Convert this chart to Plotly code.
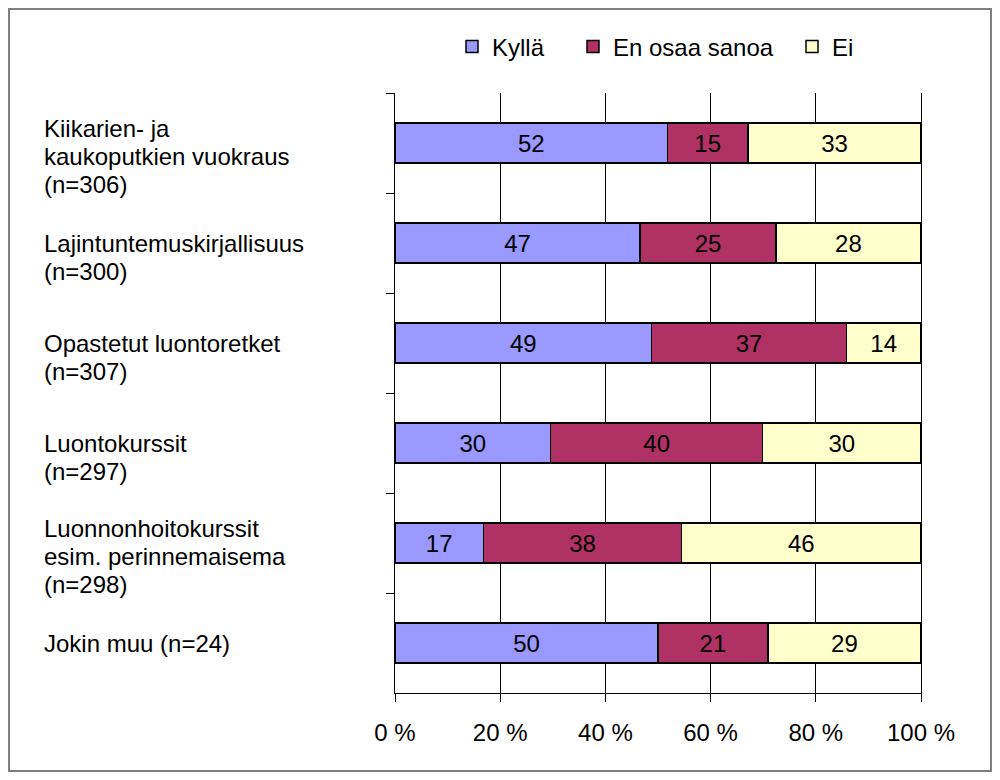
import plotly.graph_objects as go

# survey items, top to bottom
categories = [
    "Kiikarien- ja<br>kaukoputkien vuokraus<br>(n=306)",
    "Lajintuntemuskirjallisuus<br>(n=300)",
    "Opastetut luontoretket<br>(n=307)",
    "Luontokurssit<br>(n=297)",
    "Luonnonhoitokurssit<br>esim. perinnemaisema<br>(n=298)",
    "Jokin muu (n=24)",
]

# shares in percent (segment widths)
kylla = [51.8, 46.6, 48.8, 29.6, 16.8, 50.0]
en_osaa = [15.3, 25.8, 37.0, 40.3, 37.7, 20.9]
ei = [32.9, 27.6, 14.2, 30.1, 45.5, 29.1]

# printed data labels
kylla_labels = ["52", "47", "49", "30", "17", "50"]
en_osaa_labels = ["15", "25", "37", "40", "38", "21"]
ei_labels = ["33", "28", "14", "30", "46", "29"]

x_ticks = [0, 20, 40, 60, 80, 100]
x_tick_labels = ["0 %", "20 %", "40 %", "60 %", "80 %", "100 %"]

FONT = "Liberation Sans, Arial, sans-serif"

# the page body adds an 8px margin, so the figure is laid out in page
# pixels minus that offset
OFF = 8
W, H = 1000 - OFF, 780 - OFF
X0, X1, Y0, Y1 = 395 - OFF, 921 - OFF, 93 - OFF, 693 - OFF


def px_x(p):
    return (p - OFF - X0) / (X1 - X0)


def px_y(p):
    return (Y1 - (p - OFF)) / (Y1 - Y0)


series = [
    ("Kyllä", kylla, kylla_labels, "#9999FF", "legend", 452),
    ("En osaa sanoa", en_osaa, en_osaa_labels, "#B03264", "legend2", 573),
    ("Ei", ei, ei_labels, "#FFFFCC", "legend3", 792),
]

fig = go.Figure()
for name, values, labels, color, legend_id, _ in series:
    fig.add_trace(
        go.Bar(
            y=categories,
            x=values,
            orientation="h",
            name=name,
            text=labels,
            textposition="inside",
            insidetextanchor="middle",
            textangle=0,
            textfont=dict(family=FONT, size=24, color="black"),
            marker=dict(color=color, line=dict(color="black", width=1.5)),
            legend=legend_id,
            showlegend=True,
            hoverinfo="skip",
        )
    )

legend_style = dict(
    orientation="h",
    yanchor="middle",
    xanchor="left",
    y=px_y(47),
    font=dict(family=FONT, size=24, color="black"),
    bgcolor="rgba(0,0,0,0)",
)

fig.update_layout(
    width=W,
    height=H,
    barmode="stack",
    bargap=0.6,
    showlegend=True,
    paper_bgcolor="white",
    plot_bgcolor="white",
    margin=dict(l=X0, r=W - X1, t=Y0, b=H - Y1, autoexpand=False),
    font=dict(family=FONT, size=24, color="black"),
    legend=dict(legend_style, x=px_x(series[0][5])),
    legend2=dict(legend_style, x=px_x(series[1][5])),
    legend3=dict(legend_style, x=px_x(series[2][5])),
    uniformtext=dict(mode="show", minsize=10),
)

fig.update_xaxes(
    range=[0, 100],
    tickvals=x_ticks,
    ticktext=x_tick_labels,
    showgrid=True,
    gridcolor="black",
    gridwidth=1,
    zeroline=False,
    showline=True,
    linecolor="black",
    linewidth=1,
    ticks="outside",
    ticklen=8,
    tickcolor="black",
    ticklabelstandoff=10,
    tickfont=dict(family=FONT, size=24, color="black"),
)

fig.update_yaxes(
    type="category",
    categoryorder="array",
    categoryarray=categories,
    range=[len(categories) - 0.5, -0.5],
    tickson="boundaries",
    ticks="outside",
    ticklen=8,
    tickcolor="black",
    showticklabels=False,
    showgrid=False,
    showline=True,
    linecolor="black",
    linewidth=1,
    mirror=True,
    zeroline=False,
)

# category labels, left aligned, one annotation per line
LINE = 28
for cat in categories:
    lines = cat.split("<br>")
    first = -15 if len(lines) > 2 else 0
    for i, line in enumerate(lines):
        fig.add_annotation(
            x=px_x(42),
            xref="paper",
            y=cat,
            yref="y",
            text=line,
            showarrow=False,
            xanchor="left",
            yanchor="middle",
            yshift=-(first + i * LINE),
            font=dict(family=FONT, size=24, color="black"),
        )

# outer frame
fig.add_shape(
    type="rect",
    xref="paper",
    yref="paper",
    x0=px_x(9),
    x1=px_x(991),
    y0=px_y(771),
    y1=px_y(9),
    line=dict(color="#7f7f7f", width=2),
    fillcolor="rgba(0,0,0,0)",
    layer="below",
)

fig.write_html("out.html")
